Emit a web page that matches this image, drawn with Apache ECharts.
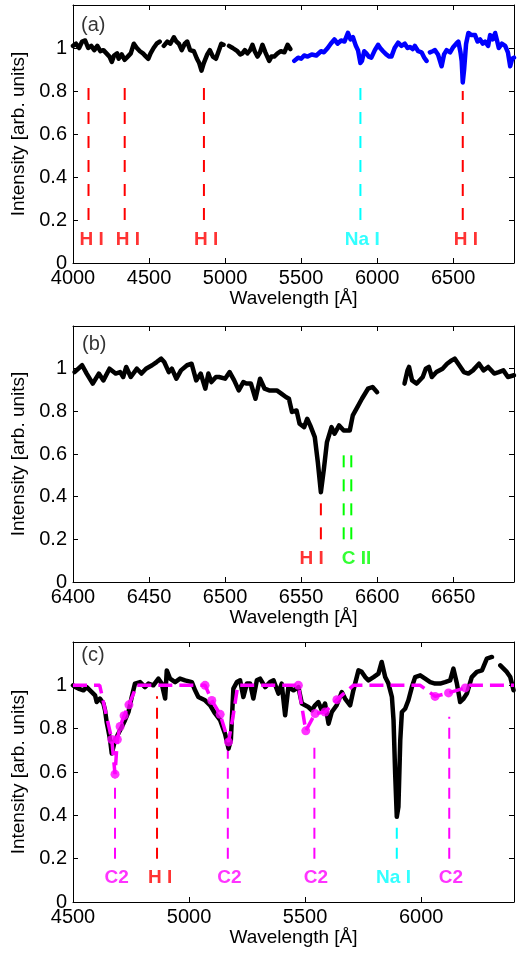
<!DOCTYPE html>
<html><head><meta charset="utf-8">
<script src="https://cdn.jsdelivr.net/npm/echarts@6/dist/echarts.min.js"></script>
<style>html,body{margin:0;padding:0;background:#fff}#c{width:518px;height:958px}</style>
</head><body><div id="c"></div>
<script>
// ---------- tick labels ----------
const yTicks = [0, 0.2, 0.4, 0.6, 0.8, 1];
const yTickLabels = ['0', '0.2', '0.4', '0.6', '0.8', '1'];
const xTicksA = [4000, 4500, 5000, 5500, 6000, 6500];
const xTicksB = [6400, 6450, 6500, 6550, 6600, 6650];
const xTicksC = [4500, 5000, 5500, 6000];

// ---------- panel (a) ----------
const aBlackWl = [4000,4020,4040,4060,4080,4100,4120,4140,4160,4180,4200,4220,4240,4255,4270,4290,4300,4320,4340,4360,4380,4400,4420,4440,4460,4480,4495,4510,4530,4550,4570,4582,4597,4620,4640,4663,4680,4696,4715,4735,4751,4770,4795,4815,4830,4845,4860,4883,4900,4920,4940,4960,4975,4990,5008,5026,5050,5081,5100,5114,5130,5147,5165,5180,5195,5213,5230,5246,5265,5290,5305,5323,5345,5367,5390,5411,5429];
const aBlackI = [1.01,1.02,1.0,1.03,1.035,1.0,1.01,0.99,1.01,0.985,0.99,0.975,0.96,0.935,0.965,0.975,0.95,0.97,0.945,0.96,0.975,1.02,1.0,0.985,0.975,0.96,0.95,0.975,1.0,1.02,1.03,null,1.01,1.03,1.02,1.05,1.03,1.02,0.99,1.02,1.03,0.99,0.985,0.95,0.93,0.895,0.93,0.97,0.99,0.96,0.95,0.99,1.02,1.015,null,1.01,1.0,0.985,0.97,0.975,0.99,0.975,0.99,1.015,0.985,0.96,0.98,1.015,0.98,0.94,0.96,0.96,0.975,0.985,0.98,1.015,0.995];
const aBlueWl = [5455,5480,5500,5520,5543,5570,5600,5631,5650,5675,5695,5719,5740,5763,5785,5808,5825,5841,5860,5874,5890,5900,5915,5929,5945,5962,5985,6006,6020,6039,6060,6080,6094,6115,6138,6160,6182,6200,6215,6235,6248,6270,6292,6310,6325,6336,6347,6365,6380,6400,6424,6440,6457,6480,6501,6520,6534,6548,6556,6563,6572,6585,6600,6620,6644,6660,6677,6695,6710,6730,6743,6760,6776,6790,6800,6820,6842,6860,6875,6888,6900];
const aBlueI = [0.94,0.955,0.95,0.965,0.96,0.97,0.965,0.985,0.98,1.0,1.02,1.04,1.02,1.035,1.03,1.07,1.04,1.05,1.01,0.99,0.93,0.94,0.985,0.975,0.96,0.955,0.99,1.015,1.0,0.985,0.97,0.96,0.96,1.0,1.025,1.01,1.02,1.0,1.005,0.995,1.01,0.985,0.98,0.955,0.94,null,0.98,0.985,0.99,0.97,0.915,0.97,0.99,0.98,1.005,1.02,1.03,0.98,0.94,0.84,0.9,1.02,1.07,1.06,1.06,1.03,1.04,1.02,1.03,1.01,1.06,1.04,1.07,1.03,1.0,1.02,1.01,0.98,0.915,0.95,0.955];
const aLineWl = [4102, 4340, 4861, 5890, 6563];
const aLineTop = [0.85, 0.85, 0.85, 0.85, 0.80];
const aLineColor = ['#ff0000', '#ff0000', '#ff0000', '#00ffff', '#ff0000'];
const aLabelText = ['H I', 'H I', 'H I', 'Na I', 'H I'];
const aLabelWl = [4123, 4361, 4876, 5902, 6583];

// ---------- panel (b) ----------
const bWl = [6401,6406,6409,6413,6417,6420,6424,6428,6431,6433,6435,6438,6442,6445,6448,6452,6455,6458,6460,6463,6465,6468,6471,6475,6478,6481,6484,6487,6489,6491,6494,6496,6500,6503,6506,6509,6512,6514,6517,6520,6523,6526,6529,6534,6537,6540,6542,6544,6547,6549,6552,6554,6556,6559,6561,6563,6565,6567,6570,6572,6575,6578,6582,6584,6587,6590,6594,6597,6600,6609,6618,6620,6621,6623,6626,6630,6632,6634,6636,6639,6643,6646,6649,6651,6654,6657,6660,6663,6667,6670,6673,6677,6680,6683,6686,6690];
const bI = [0.984,1.016,0.977,0.93,0.977,0.945,1.0,0.977,0.984,0.961,1.008,0.961,1.0,0.977,1.0,1.016,1.031,1.047,1.031,0.984,1.0,0.953,0.992,1.016,1.023,0.945,0.977,0.906,0.977,0.937,0.961,0.961,0.953,0.984,0.945,0.898,0.937,0.93,0.93,0.859,0.953,0.906,0.898,0.898,0.883,0.867,0.859,0.797,0.804,0.742,0.726,0.765,0.734,0.679,0.562,0.421,0.531,0.656,0.726,0.695,0.734,0.71,0.71,0.781,0.82,0.859,0.906,0.914,0.89,null,0.93,0.992,1.008,0.945,0.93,0.961,1.0,1.008,0.961,0.984,1.0,1.023,1.039,1.047,1.016,0.984,0.977,0.992,1.023,0.992,1.008,0.977,0.984,0.992,0.961,0.969];
const bLineWl = [6563, 6578, 6583];
const bLineTop = [0.38, 0.63, 0.63];
const bLineColor = ['#ff0000', '#00ff00', '#00ff00'];
const bLabelText = ['H I', 'C II'];
const bLabelWl = [6557, 6586.5];
const bLabelColor = ['#ff0000', '#00ff00'];

// ---------- panel (c) ----------
const cWl = [4500,4509,4523,4545,4559,4581,4595,4602,4616,4631,4638,4645,4652,4660,4667,4674,4681,4695,4710,4724,4739,4753,4767,4789,4810,4825,4846,4868,4882,4897,4904,4918,4940,4961,4983,5012,5026,5040,5069,5091,5112,5134,5155,5170,5180,5191,5206,5220,5234,5249,5263,5277,5292,5306,5328,5349,5364,5385,5399,5414,5428,5450,5471,5486,5500,5514,5529,5543,5557,5572,5586,5601,5615,5636,5658,5672,5694,5708,5730,5744,5759,5773,5795,5816,5830,5845,5859,5874,5881,5888,5895,5902,5910,5917,5931,5945,5960,5974,5996,6017,6039,6060,6082,6103,6125,6139,6154,6168,6183,6197,6218,6240,6262,6283,6305,6322,6341,6369,6384,6398];
const cI = [1.0,0.992,0.985,0.977,0.992,0.969,0.954,0.923,0.939,0.916,0.885,0.831,0.793,0.747,0.685,0.716,0.747,0.777,0.808,0.839,0.877,0.946,1.008,1.015,0.992,1.008,1.0,1.031,1.008,0.939,1.069,1.031,1.015,1.031,1.023,1.015,0.977,0.946,0.931,0.908,0.87,0.839,0.777,0.708,0.747,0.985,1.015,1.023,0.946,1.008,1.008,0.939,1.023,1.031,0.992,1.015,1.023,0.962,1.008,0.862,0.992,0.977,0.992,0.916,0.908,0.9,0.885,0.908,0.923,0.885,0.916,0.823,0.877,0.908,0.969,0.939,0.908,0.977,1.069,1.062,1.038,1.023,1.038,1.054,1.108,1.038,1.008,0.946,0.839,0.593,0.393,0.439,0.747,0.877,0.892,0.931,0.992,1.038,1.046,1.031,1.015,1.008,1.008,1.015,1.023,1.077,1.008,0.923,0.939,0.962,1.038,1.062,1.069,1.123,1.131,null,1.092,1.062,1.038,0.977];
const cModelWl = [4500,4615,4640,4667,4681,4691,4703,4720,4741,4775,5069,5098,5134,5170,5190,5210,5471,5503,5543,5586,5637,5708,5996,6060,6118,6190,6210,6400];
const cModelI = [1,1,0.88,0.75,0.59,0.75,0.81,0.86,0.91,1,1,0.93,0.866,0.739,0.86,1,1,0.79,0.87,0.877,0.934,1,1,0.949,0.965,0.988,1,1];
const cDotWl = [4667,4681,4691,4703,4720,4741,5069,5098,5134,5170,5471,5503,5543,5586,5637,6060,6118,6190];
const cDotI = [0.75,0.59,0.75,0.81,0.86,0.91,1,0.93,0.866,0.739,1,0.79,0.87,0.877,0.934,0.949,0.965,0.988];
const cLineWl = [4681, 4862, 5167, 5540, 5895, 6121];
const cLineTop = [0.57, 0.95, 0.71, 0.75, 0.355, 0.855];
const cLineColor = ['#ff00ff', '#ff0000', '#ff00ff', '#ff00ff', '#00ffff', '#ff00ff'];
const cLabelText = ['C2', 'H I', 'C2', 'C2', 'Na I', 'C2'];
const cLabelWl = [4688, 4875, 5174, 5547, 5881, 6128];

const panelTag = ['(a)', '(b)', '(c)'];
const panelTagWl = [4133, 6414, 4586];
const panelTagI = [1.105, 1.115, 1.14];
const lineBottom = 0.2;
const labelLevel = 0.11;

// ---------- build ----------
const FONT = 'Liberation Sans, Arial, Helvetica, sans-serif';
const TICK_FS = 20, NAME_FS = 19, ANN_FS = 19, TAG_FS = 20;
function pairs(xs, ys) { return xs.map((x, i) => [x, ys[i] == null ? '-' : ys[i]]); }
const grids = [
  {left: 73, top: 5, width: 441, height: 258},
  {left: 73, top: 326, width: 441, height: 256},
  {left: 73, top: 642, width: 441, height: 260}
];
const xr = [[4000, 6900, 500, xTicksA], [6400, 6690, 50, xTicksB], [4500, 6400, 500, xTicksC]];
const xAxis = [], yAxis = [];
xr.forEach((r, g) => {
  const ticks = r[3];
  xAxis.push({type: 'value', gridIndex: g, min: r[0], max: r[1], interval: r[2], position: 'bottom',
    name: 'Wavelength [Å]', nameLocation: 'middle', nameGap: 26,
    nameTextStyle: {fontFamily: FONT, fontSize: NAME_FS, color: '#000'},
    axisLine: {show: true, onZero: false, lineStyle: {color: '#000', width: 1}},
    axisTick: {show: true, inside: true, length: 5, lineStyle: {color: '#000'}},
    axisLabel: {show: true, margin: 5, fontFamily: FONT, fontSize: TICK_FS, color: '#000', showMaxLabel: false,
      formatter: v => (ticks.indexOf(Math.round(v)) >= 0 ? String(Math.round(v)) : '')},
    splitLine: {show: false}});
  xAxis.push({type: 'value', gridIndex: g, min: r[0], max: r[1], interval: r[2], position: 'top',
    axisLine: {show: true, onZero: false, lineStyle: {color: '#000', width: 1}},
    axisTick: {show: true, inside: true, length: 5, lineStyle: {color: '#000'}},
    axisLabel: {show: false}, splitLine: {show: false}});
  yAxis.push({type: 'value', gridIndex: g, min: 0, max: 1.2, interval: 0.2, position: 'left',
    name: 'Intensity [arb. units]', nameLocation: 'middle', nameGap: 42, nameRotate: 90,
    nameTextStyle: {fontFamily: FONT, fontSize: NAME_FS, color: '#000'},
    axisLine: {show: true, onZero: false, lineStyle: {color: '#000', width: 1}},
    axisTick: {show: true, inside: true, length: 5, lineStyle: {color: '#000'}},
    axisLabel: {show: true, margin: 6, fontFamily: FONT, fontSize: TICK_FS, color: '#000',
      formatter: v => { const k = yTicks.findIndex(t => Math.abs(t - v) < 1e-6); return k >= 0 ? yTickLabels[k] : ''; }},
    splitLine: {show: false}});
  yAxis.push({type: 'value', gridIndex: g, min: 0, max: 1.2, interval: 0.2, position: 'right',
    axisLine: {show: true, onZero: false, lineStyle: {color: '#000', width: 1}},
    axisTick: {show: true, inside: true, length: 5, lineStyle: {color: '#000'}},
    axisLabel: {show: false}, splitLine: {show: false}});
});

const series = [];
function spectrum(g, xs, ys, color, w) {
  series.push({type: 'line', xAxisIndex: 2 * g, yAxisIndex: 2 * g, data: pairs(xs, ys), symbol: 'none',
    connectNulls: false, lineStyle: {color: color, width: w, join: 'round', cap: 'round'}, z: 3, silent: true});
}
function vlines(g, xs, tops, colors, dash, w) {
  xs.forEach((x, i) => series.push({type: 'line', xAxisIndex: 2 * g, yAxisIndex: 2 * g,
    data: [[x, lineBottom], [x, tops[i]]], symbol: 'none',
    lineStyle: {color: colors[i], width: w, type: dash}, z: 2, silent: true}));
}
function labels(g, xs, texts, colors) {
  series.push({type: 'scatter', xAxisIndex: 2 * g, yAxisIndex: 2 * g, symbolSize: 0, silent: true, z: 5,
    data: xs.map((x, i) => ({name: texts[i], value: [x, labelLevel],
      label: {show: true, position: 'inside', formatter: texts[i], color: colors[i],
        fontFamily: FONT, fontSize: ANN_FS, fontWeight: 'bold'}}))});
}
// (a)
vlines(0, aLineWl, aLineTop, aLineColor, [12, 12], 2);
spectrum(0, aBlackWl, aBlackI, '#000', 4.5);
spectrum(0, aBlueWl, aBlueI, '#0000ff', 4.5);
labels(0, aLabelWl, aLabelText, aLineColor);
// (b)
vlines(1, bLineWl, bLineTop, bLineColor, [12, 12], 2);
spectrum(1, bWl, bI, '#000', 4.5);
labels(1, bLabelWl, bLabelText, bLabelColor);
// (c)
vlines(2, cLineWl, cLineTop, cLineColor, [11, 9], 2);
spectrum(2, cWl, cI, '#000', 4.5);
series.push({type: 'line', xAxisIndex: 4, yAxisIndex: 4, data: pairs(cModelWl, cModelI), symbol: 'none',
  lineStyle: {color: '#ff00ff', width: 3.5, type: [14, 7]}, z: 4, silent: true});
series.push({type: 'scatter', xAxisIndex: 4, yAxisIndex: 4, data: pairs(cDotWl, cDotI), symbol: 'circle',
  symbolSize: 9, itemStyle: {color: '#ff00ff'}, z: 4, silent: true});
labels(2, cLabelWl, cLabelText, cLineColor);
// panel tags
panelTag.forEach((t, g) => series.push({type: 'scatter', xAxisIndex: 2 * g, yAxisIndex: 2 * g, symbolSize: 0, silent: true, z: 6,
  data: [{value: [panelTagWl[g], panelTagI[g]], label: {show: true, position: 'inside', formatter: t, color: '#000',
    fontFamily: FONT, fontSize: TAG_FS}}]}));

const chart = echarts.init(document.getElementById('c'), null, {renderer: 'canvas'});
chart.setOption({animation: false, backgroundColor: '#fff', grid: grids, xAxis: xAxis, yAxis: yAxis, series: series});
</script></body></html>
